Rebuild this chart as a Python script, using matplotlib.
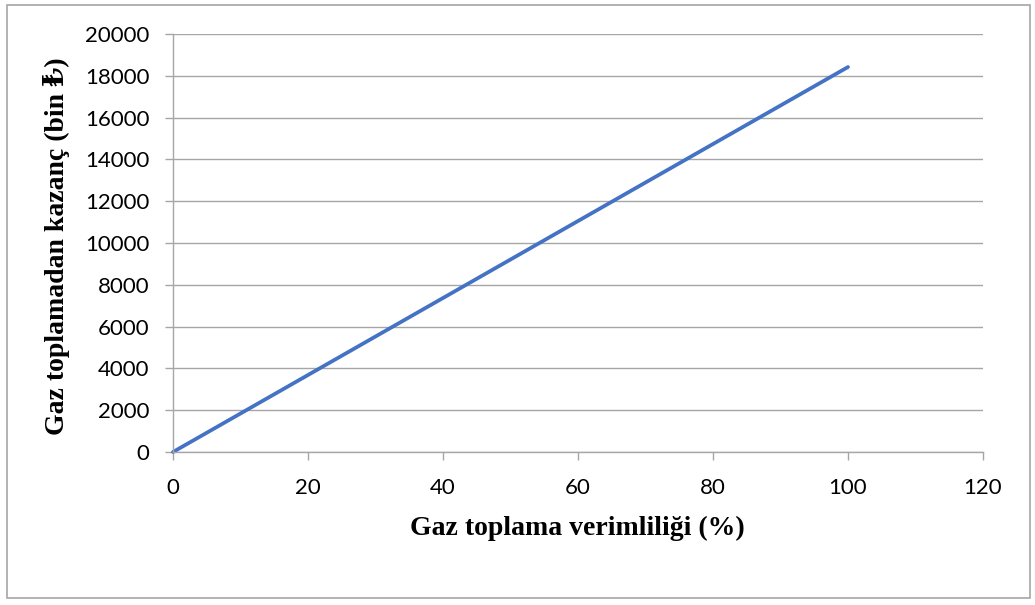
import matplotlib
matplotlib.use('Agg')
import matplotlib.pyplot as plt
from matplotlib.patches import Rectangle

# values
efficiency = [0, 100]
profit = [0, 18420]
x_ticks = [0, 20, 40, 60, 80, 100, 120]
y_ticks = [0, 2000, 4000, 6000, 8000, 10000, 12000, 14000, 16000, 18000, 20000]

grid_color = '#a6a6a6'
line_color = '#4472c4'

fig = plt.figure(figsize=(10.35, 6.05), dpi=100)
ax = fig.add_axes([173/1035, 1 - 452/605, (983 - 173)/1035, (452 - 34)/605])

ax.plot(efficiency, profit, color=line_color, lw=2.7, solid_capstyle='round', clip_on=False)

ax.set_xlim(0, 120)
ax.set_ylim(0, 20000)
ax.set_xticks(x_ticks)
ax.set_yticks(y_ticks)
ax.grid(axis='y', color=grid_color, lw=1)
ax.set_axisbelow(True)

for s in ['top', 'right']:
    ax.spines[s].set_visible(False)
for s in ['left', 'bottom']:
    ax.spines[s].set_color(grid_color)
    ax.spines[s].set_linewidth(1)

ax.tick_params(axis='both', colors=grid_color, length=6, width=1, labelcolor='black')
ax.tick_params(axis='y', pad=11)
ax.tick_params(axis='x', pad=13)
for lab in ax.get_xticklabels() + ax.get_yticklabels():
    lab.set_family('Lato')
    lab.set_fontsize(16)

label_font = dict(family=['Liberation Serif', 'DejaVu Serif'], weight='bold', fontsize=20)
fig.text(577/1035, 1 - 528/605, 'Gaz toplama verimliliği (%)', ha='center', va='center',
         **label_font)
fig.text(57/1035, 1 - 246/605, 'Gaz toplamadan kazanç (bin ₺)', rotation=90,
         ha='center', va='center', **label_font)

# outer chart border
fig.patches.append(Rectangle((7/1035, 1 - 598/605), (1030 - 7)/1035, (598 - 5)/605,
                             transform=fig.transFigure, fill=False,
                             edgecolor='#a6a6a6', lw=1.2))

fig.savefig('out.png', dpi=100)
